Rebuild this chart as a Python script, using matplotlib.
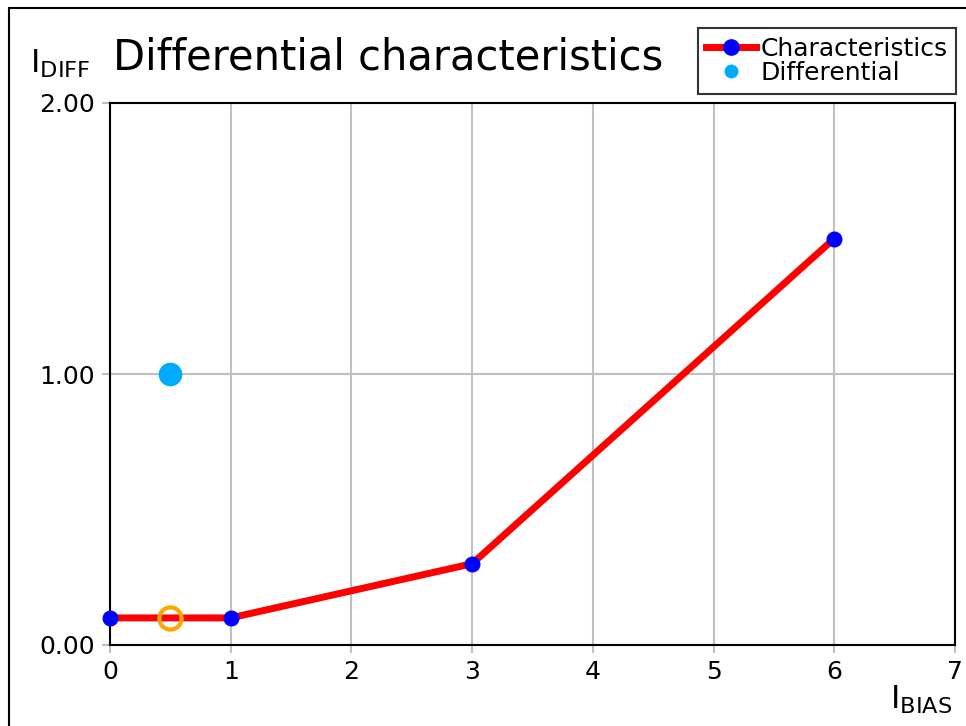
import matplotlib
matplotlib.use("Agg")
import matplotlib.pyplot as plt
from matplotlib.patches import Rectangle
from matplotlib.lines import Line2D

plt.rcParams['font.family'] = ['DejaVu Sans']
plt.rcParams['mathtext.default'] = 'regular'

# Data
char_x = [0, 1, 3, 6]
char_y = [0.1, 0.1, 0.3, 1.5]
diff_x = [0.5]
diff_y = [1.0]
op_x = [0.5]
op_y = [0.1]
x_ticks = [0, 1, 2, 3, 4, 5, 6, 7]
y_ticks = [0.0, 1.0, 2.0]
y_tick_labels = ["0.00", "1.00", "2.00"]

W, H = 966, 726
fig = plt.figure(figsize=(W / 100, H / 100), dpi=100)
ax = fig.add_axes([110 / W, 1 - 645 / H, (955 - 110) / W, (645 - 103) / H])

ax.plot(char_x, char_y, color='#ff0000', lw=5, marker='o', ms=10.5,
        mfc='#0000ff', mec='#0000ff', zorder=3, clip_on=False)
ax.plot(diff_x, diff_y, ls='none', marker='o', ms=16, mfc='#00aaff',
        mec='#00aaff', zorder=4)
ax.plot(op_x, op_y, ls='none', marker='o', ms=16, mfc='none',
        mec='#ffa500', mew=3, zorder=5)

ax.set_xlim(0, 7)
ax.set_ylim(0, 2)
ax.set_xticks(x_ticks)
ax.set_yticks(y_ticks)
ax.set_yticklabels(y_tick_labels)
ax.grid(True, color='#c0c0c0', lw=1.5)
ax.set_axisbelow(True)
ax.tick_params(axis='both', length=6, width=1.5, color='#c0c0c0',
               labelsize=18, pad=5)
for s in ax.spines.values():
    s.set_linewidth(1.5)
    s.set_zorder(2.5)

fig.text(113 / W, 1 - 58 / H, "Differential characteristics", fontsize=30,
         ha='left', va='center')
fig.text(30 / W, 1 - 64 / H, r"$\mathrm{I}_{\mathrm{DIFF}}$", fontsize=23,
         ha='left', va='center')
fig.text(890 / W, 1 - 700 / H, r"$\mathrm{I}_{\mathrm{BIAS}}$", fontsize=23,
         ha='left', va='center')

handles = [
    Line2D([], [], color='#ff0000', lw=5, marker='o', ms=11,
           mfc='#0000ff', mec='#0000ff'),
    Line2D([], [], ls='none', marker='o', ms=9, mfc='#00aaff', mec='#00aaff'),
]
leg = fig.legend(handles, ["Characteristics", "Differential"],
                 loc='upper right', bbox_to_anchor=(956 / W, 1 - 28 / H),
                 fontsize=18, frameon=True, fancybox=False, edgecolor='black',
                 borderpad=0.35, handlelength=2.0, handletextpad=0.15,
                 labelspacing=0.0, borderaxespad=0)
leg.get_frame().set_linewidth(1.5)

fig.add_artist(Rectangle((9 / W, -0.1), 1.2, 1 - 8 / H + 0.1,
                         transform=fig.transFigure, fill=False,
                         edgecolor='black', lw=1.5))

fig.savefig("out.png", dpi=100)
